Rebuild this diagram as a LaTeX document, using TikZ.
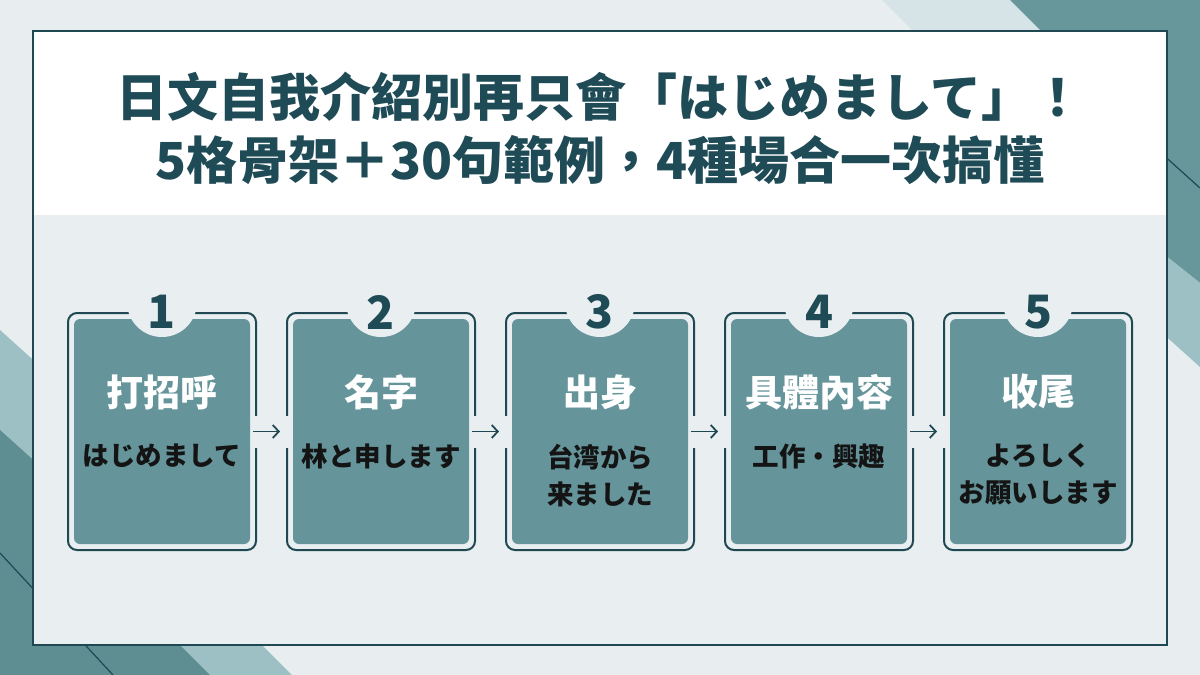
\documentclass[tikz,border=0pt]{standalone}
\usepackage{fontspec}
\setmainfont{Noto Sans CJK TC}
\usepackage{tikz}
\usetikzlibrary{arrows.meta, calc, positioning}
\definecolor{bgpale}{HTML}{E8EEF0}
\definecolor{bodypale}{HTML}{E9EFF1}
\definecolor{bandpale}{HTML}{D6E4E7}
\definecolor{tealdark}{HTML}{68979B}
\definecolor{tealmid}{HTML}{5F8E92}
\definecolor{teallight}{HTML}{9CC0C4}
\definecolor{boxteal}{HTML}{65959B}
\definecolor{inkteal}{HTML}{1F4852}
\definecolor{titleteal}{HTML}{1F4B56}

\begin{document}
\begin{tikzpicture}[x=1pt,y=-1pt,node distance=219pt,semithick]
	\tikzset{
		stepbox/.style={draw=inkteal, line width=2pt, rounded corners=9pt, minimum width=188pt, minimum height=237pt, inner sep=0pt,
			path picture={\fill[boxteal, rounded corners=6pt] ([shift={(6pt,-6pt)}]path picture bounding box.north west) rectangle ([shift={(-6pt,6pt)}]path picture bounding box.south east);}},
		notch/.style={circle, fill=bodypale, minimum size=70pt, inner sep=0pt},
		num/.style={inner sep=0pt, text=titleteal, font=\bfseries\fontsize{46}{46}\selectfont},
		head/.style={inner sep=0pt, text=white, font=\bfseries\fontsize{37}{40}\selectfont},
		sub/.style={inner sep=0pt, anchor=north, align=center, text=black!92, font=\bfseries\fontsize{26.5}{37}\selectfont},
		gapcut/.style={draw=bodypale, line width=32pt, shorten <=-3pt, shorten >=-3pt},
		stepline/.style={draw=inkteal, line width=1.8pt, -{Straight Barb[length=6pt,width=13pt]}, shorten <=-4pt, shorten >=6pt}
	}
	\useasboundingbox (0,0) rectangle (1200,675);
	\fill[bgpale] (0,0) rectangle (1200,675);
	\fill[bandpale] (882,0) -- (1010,0) -- (1100,90) -- (972,90) -- cycle;
	\fill[tealdark] (1010,0) -- (1200,0) -- (1200,283) -- (1167,257) -- (1041,31) -- cycle;
	\fill[teallight] (1150,243) -- (1200,283) -- (1200,367) -- (1150,322) -- cycle;
	\draw[inkteal, line width=1.2pt] (1160,152) -- (1200,188);
	\fill[teallight] (0,330) -- (40,366) -- (262,645) -- (292,675) -- (0,675) -- cycle;
	\fill[tealmid] (0,430) -- (40,466) -- (180,645) -- (210,675) -- (0,675) -- cycle;
	\draw[inkteal, line width=1.2pt] (0,553) -- (113,675);
	\fill[white] (33,31) rectangle (1167,215);
	\fill[bodypale] (33,215) rectangle (1167,645);
	\draw[inkteal, line width=2pt] (33,31) rectangle (1167,645);
	\node[align=center, text=titleteal, font=\bfseries\fontsize{51}{63}\selectfont] (title) at (600,128)
		{日文自我介紹別再只會「はじめまして」！\\5格骨架＋30句範例，4種場合一次搞懂};
	\node[stepbox] (1) at (162,431.5) {};
	\node[stepbox, right of=1] (2) {};
	\node[stepbox, right of=2] (3) {};
	\node[stepbox, right of=3] (4) {};
	\node[stepbox, right of=4] (5) {};
	\node[notch] (c1) at ([yshift=10pt]1.north) {};
	\node[notch] (c2) at ([yshift=10pt]2.north) {};
	\node[notch] (c3) at ([yshift=10pt]3.north) {};
	\node[notch] (c4) at ([yshift=10pt]4.north) {};
	\node[notch] (c5) at ([yshift=10pt]5.north) {};
	\node[num] (n1) at ([yshift=-10pt]c1.center) {1};
	\node[num] (n2) at ([yshift=-10pt]c2.center) {2};
	\node[num] (n3) at ([yshift=-10pt]c3.center) {3};
	\node[num] (n4) at ([yshift=-10pt]c4.center) {4};
	\node[num] (n5) at ([yshift=-10pt]c5.center) {5};
	\path
		(1)
			edge[gapcut] (2)
			edge[stepline] (2)
		(2)
			edge[gapcut] (3)
			edge[stepline] (3)
		(3)
			edge[gapcut] (4)
			edge[stepline] (4)
		(4)
			edge[gapcut] (5)
			edge[stepline] (5);
	\node[head] (h1) at ([yshift=39.5pt]1.center) {打招呼};
	\node[head] (h2) at ([yshift=39.5pt]2.center) {名字};
	\node[head] (h3) at ([yshift=39.5pt]3.center) {出身};
	\node[head] (h4) at ([yshift=39.5pt]4.center) {具體內容};
	\node[head] (h5) at ([yshift=39.5pt]5.center) {收尾};
	\node[sub] (t1) at ([yshift=-12pt]1.center) {はじめまして};
	\node[sub] (t2) at ([yshift=-12pt]2.center) {林と申します};
	\node[sub] (t3) at ([yshift=-12pt]3.center) {台湾から\\来ました};
	\node[sub] (t4) at ([yshift=-12pt]4.center) {工作・興趣};
	\node[sub] (t5) at ([yshift=-12pt]5.center) {よろしく\\お願いします};
\end{tikzpicture}
\end{document}
